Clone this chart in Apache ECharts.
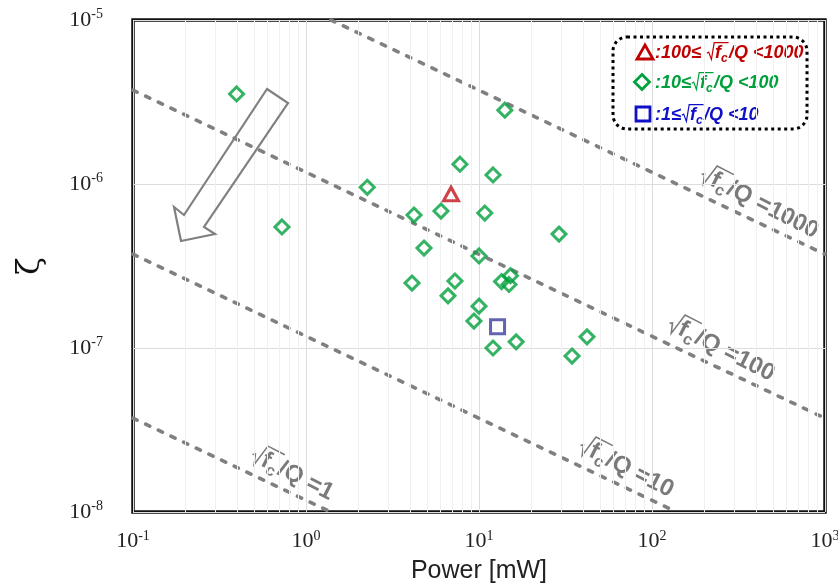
<!DOCTYPE html>
<html>
<head>
<meta charset="utf-8">
<script src="https://cdn.jsdelivr.net/npm/echarts@6/dist/echarts.min.js"></script>
<style>
  html, body { margin: 0; padding: 0; background: #fff; }
  #zetaChart { width: 838px; height: 583px; }
</style>
</head>
<body>
<div id="zetaChart"></div>
<script>
// 数据: power [mW] / zeta
const greenPower = [0.397, 0.726, 2.26, 14.1, 7.76, 12.05, 4.21, 6.03, 10.8, 29.0, 4.81, 10.0, 4.10, 7.26, 15.2, 13.5, 14.9, 6.62, 10.0, 9.35, 16.4, 12.05, 42.1, 34.5];
const greenZeta = [3.54e-6, 5.47e-7, 9.55e-7, 2.82e-6, 1.32e-6, 1.135e-6, 6.47e-7, 6.84e-7, 6.65e-7, 4.95e-7, 4.07e-7, 3.64e-7, 2.49e-7, 2.56e-7, 2.76e-7, 2.54e-7, 2.44e-7, 2.08e-7, 1.80e-7, 1.46e-7, 1.09e-7, 1.0e-7, 1.17e-7, 8.93e-8];
const redPower = [6.89];
const redZeta = [8.69e-7];
const bluePower = [12.8];
const blueZeta = [1.35e-7];

// sqrt(fc)/Q guide lines, end points
const guideNames = ['1', '10', '100', '1000'];
const guideLines = [
  [[0.1, 3.73e-8], [1.39, 1e-8]],
  [[0.1, 3.73e-7], [139, 1e-8]],
  [[0.1, 3.73e-6], [1000, 3.73e-8]],
  [[1.39, 1e-5], [1000, 3.73e-7]]
];

const xDecades = [0.1, 1, 10, 100];
const yDecades = [1e-8, 1e-7, 1e-6];

let minorX = [];
let minorY = [];
for (let m = 2; m <= 9; m++) {
  xDecades.forEach(d => minorX.push({ xAxis: d * m }));
  yDecades.forEach(d => minorY.push({ yAxis: d * m }));
}

const measure = document.createElement('canvas').getContext('2d');
function fontStr(size, italic) {
  return (italic ? 'italic ' : '') + 'bold ' + size + 'px "Liberation Sans", Arial, sans-serif';
}

// text like  pre + √(f_c) + post , drawn as graphic children
function sqrtLabel(pre, post, size, color, italic, centre) {
  let kids = [];
  let x = 0;
  const add = (txt, s, dy) => {
    measure.font = fontStr(s, italic);
    kids.push({
      type: 'text', x: x, y: dy,
      style: { text: txt, font: fontStr(s, italic), fill: color, textVerticalAlign: 'middle', verticalAlign: 'middle' }
    });
    x += measure.measureText(txt).width;
  };
  if (pre) add(pre, size, 0);
  const r0 = x + 1;
  const top = -size * 0.58;
  x += size * 0.5;
  const barStart = x - size * 0.04;
  add('f', size, 0);
  add('c', Math.round(size * 0.68), size * 0.3);
  const barEnd = x + 1;
  kids.push({
    type: 'polyline',
    shape: { points: [[r0, size * 0.02], [r0 + size * 0.1, -size * 0.05], [r0 + size * 0.25, size * 0.36], [barStart, top], [barEnd, top]] },
    style: { stroke: color, lineWidth: Math.max(1.2, size * 0.065), fill: null }
  });
  x += size * 0.08;
  add(post, size, 0);
  if (centre) {
    const half = x / 2;
    kids.forEach(k => {
      if (k.type === 'text') k.x -= half;
      else k.shape.points = k.shape.points.map(p => [p[0] - half, p[1]]);
    });
  }
  return kids;
}

function guideLabel(cx, cy, txt) {
  return {
    type: 'group', x: cx, y: cy, rotation: -27 * Math.PI / 180, silent: true, z: 50,
    children: sqrtLabel('', '/Q =' + txt, 24, '#7a7a7a', false, true)
  };
}

function powLabel(v) {
  const e = Math.round(Math.log10(v));
  return '{b|10}{e|' + e + '}';
}
const axisRich = {
  b: { fontSize: 22, fontFamily: '"Liberation Serif", "DejaVu Serif", serif', color: '#222' },
  e: { fontSize: 14, fontFamily: '"Liberation Serif", "DejaVu Serif", serif', color: '#222', padding: [0, 0, 11, 0] }
};

let chart = echarts.init(document.getElementById('zetaChart'));

let series = [
  {
    type: 'line', data: [], z: 1, silent: true,
    markLine: {
      silent: true, symbol: 'none', animation: false,
      label: { show: false },
      lineStyle: { type: 'solid', color: '#f0f0f0', width: 1 },
      data: minorX.concat(minorY)
    }
  }
];
guideLines.forEach((pts, i) => {
  series.push({
    name: 'guide' + guideNames[i],
    type: 'line', data: pts, symbol: 'none', silent: true, z: 3,
    lineStyle: { color: '#808080', width: 3.6, type: [4.5, 9.5], cap: 'round' }
  });
});
series.push(
  {
    name: '10≤√fc/Q<100', type: 'scatter', z: 10,
    data: greenPower.map((p, i) => [p, greenZeta[i]]),
    symbol: 'diamond', symbolSize: 14,
    itemStyle: { color: 'rgba(0,0,0,0)', borderColor: '#00a03c', borderWidth: 3 }
  },
  {
    name: '100≤√fc/Q<1000', type: 'scatter', z: 10,
    data: redPower.map((p, i) => [p, redZeta[i]]),
    symbol: 'triangle', symbolSize: [15, 13.5],
    itemStyle: { color: 'rgba(0,0,0,0)', borderColor: '#c0141c', borderWidth: 3 }
  },
  {
    name: '1≤√fc/Q<10', type: 'scatter', z: 10,
    data: bluePower.map((p, i) => [p, blueZeta[i]]),
    symbol: 'rect', symbolSize: 14,
    itemStyle: { color: 'rgba(0,0,0,0)', borderColor: '#3c3c9e', borderWidth: 3 }
  }
);

let graphic = [
  // hollow arrow
  {
    type: 'polygon', z: 20, silent: true,
    shape: { points: [[267, 89], [288, 103], [204, 227], [215, 234], [181, 241], [174, 207], [184, 215]] },
    style: { fill: null, stroke: '#808080', lineWidth: 2.2 }
  },
  guideLabel(759, 203, '1000'),
  guideLabel(721, 349, '100'),
  guideLabel(626, 468, '10'),
  guideLabel(292, 474, '1'),
  // legend box
  {
    type: 'rect', z: 30, silent: true,
    shape: { x: 613, y: 37, width: 194, height: 92, r: 14 },
    style: { fill: null, stroke: '#000', lineWidth: 3, lineDash: [3, 3.5] }
  },
  {
    type: 'polygon', z: 31, silent: true,
    shape: { points: [[645, 45], [653, 59], [637, 59]] },
    style: { fill: null, stroke: '#c00000', lineWidth: 2.8 }
  },
  {
    type: 'polygon', z: 31, silent: true,
    shape: { points: [[642, 74.5], [649.5, 82], [642, 89.5], [634.5, 82]] },
    style: { fill: null, stroke: '#00a03c', lineWidth: 2.8 }
  },
  {
    type: 'rect', z: 31, silent: true,
    shape: { x: 636, y: 107, width: 14, height: 14 },
    style: { fill: null, stroke: '#1010c8', lineWidth: 2.8 }
  },
  { type: 'group', x: 655, y: 53, z: 31, silent: true, children: sqrtLabel(':100≤ ', '/Q <1000', 18, '#c00000', true, false) },
  { type: 'group', x: 655, y: 83, z: 31, silent: true, children: sqrtLabel(':10≤', '/Q <100', 18, '#00a03c', true, false) },
  { type: 'group', x: 655, y: 115, z: 31, silent: true, children: sqrtLabel(':1≤', '/Q <10', 18, '#1010c8', true, false) }
];

let option = {
  animation: false,
  backgroundColor: '#fff',
  grid: {
    left: 133, right: 13, top: 20, bottom: 71,
    outerBoundsMode: 'none',
    show: true, borderColor: '#111', borderWidth: 3.5, backgroundColor: 'transparent'
  },
  xAxis: {
    type: 'log', logBase: 10, min: 0.1, max: 1000,
    name: 'Power [mW]', nameLocation: 'middle', nameGap: 47,
    nameTextStyle: { fontSize: 25, fontFamily: '"Liberation Sans", Arial, sans-serif', color: '#222' },
    axisLine: { show: false },
    axisTick: { show: false },
    axisLabel: { margin: 17, formatter: powLabel, rich: axisRich },
    splitLine: { show: true, lineStyle: { color: '#dcdcdc', width: 1 } }
  },
  yAxis: {
    type: 'log', logBase: 10, min: 1e-8, max: 1e-5,
    name: 'ζ', nameLocation: 'middle', nameGap: 86, nameRotate: 90,
    nameTextStyle: { fontSize: 32, fontFamily: '"DejaVu Serif", serif', color: '#111' },
    axisLine: { show: false },
    axisTick: { show: false },
    axisLabel: { margin: 30, formatter: powLabel, rich: axisRich },
    splitLine: { show: true, lineStyle: { color: '#dcdcdc', width: 1 } }
  },
  series: series,
  graphic: graphic
};

chart.setOption(option, true);
</script>
</body>
</html>
